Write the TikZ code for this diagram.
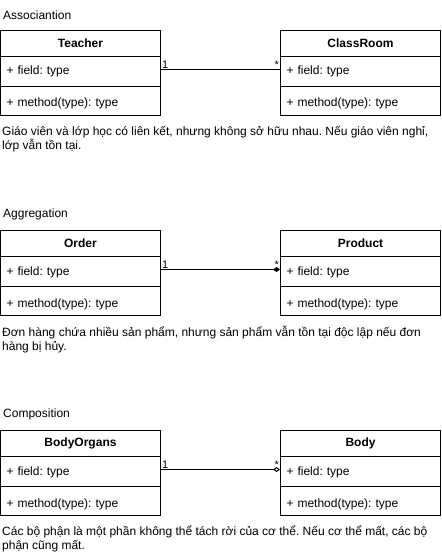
\documentclass[tikz,border=0pt]{standalone}
\usepackage{fontspec}
\setmainfont{Liberation Sans}
\usetikzlibrary{arrows.meta, positioning}
\definecolor{linecol}{HTML}{000000}
\definecolor{textcol}{HTML}{000000}
\frenchspacing

\begin{document}
\begin{tikzpicture}[
    x=1pt, y=-1pt,
    every node/.style={font=\fontsize{12}{14}\selectfont, text=textcol},
    head/.style={draw=linecol, line width=1pt, anchor=north west, minimum width=160, minimum height=26, inner sep=0pt, font=\fontsize{12}{14}\selectfont\bfseries},
    field/.style={draw=linecol, line width=1pt, anchor=north west, minimum height=30, text width=148pt, inner xsep=6pt, inner ysep=0pt, align=left, text height=10pt, text depth=3pt},
    meth/.style={field, minimum height=29, text height=15pt, text depth=3pt},
    title/.style={anchor=west, inner sep=0pt},
    note/.style={anchor=north west, inner sep=0pt, align=left},
    mult/.style={font=\fontsize{11}{12}\selectfont, inner sep=1pt},
    link/.style={draw=linecol, line width=1pt},
]
\useasboundingbox (0,0) rectangle (441,553);

% Association
\node[title] (t1) at (3,15) {Associantion};
\node[head] (teacher) at (0,30) {Teacher};
\node[field] (teacherF) at (0,56) {+ field: type};
\node[meth] (teacherM) at (0,86) {+ method(type): type};
\node[head] (room) at (280,30) {ClassRoom};
\node[field] (roomF) at (280,56) {+ field: type};
\node[meth] (roomM) at (280,86) {+ method(type): type};
\draw[link] ([yshift=2pt]teacherF.east) -- ([yshift=2pt]roomF.west);
\node[mult, anchor=south west] at ([yshift=2pt]teacherF.east) {1};
\node[mult, anchor=south east] at ([yshift=2pt]roomF.west) {*};
\node[note] (n1) at (2,126) {Giáo viên và lớp học có liên kết, nhưng không sở hữu nhau. Nếu giáo viên nghỉ,\\lớp vẫn tồn tại.};

% Aggregation
\node[title] (t2) at (3,214) {Aggregation};
\node[head] (order) at (0,230) {Order};
\node[field] (orderF) at (0,256) {+ field: type};
\node[meth] (orderM) at (0,286) {+ method(type): type};
\node[head] (product) at (280,230) {Product};
\node[field] (productF) at (280,256) {+ field: type};
\node[meth] (productM) at (280,286) {+ method(type): type};
\draw[link, -{Diamond[length=7pt, width=5pt]}] ([yshift=2pt]orderF.east) -- ([yshift=2pt]productF.west);
\node[mult, anchor=south west] at ([yshift=2pt]orderF.east) {1};
\node[mult, anchor=south east] at ([yshift=2pt]productF.west) {*};
\node[note] (n2) at (2,326) {Đơn hàng chứa nhiều sản phẩm, nhưng sản phẩm vẫn tồn tại độc lập nếu đơn\\hàng bị hủy.};

% Composition
\node[title] (t3) at (3,414) {Composition};
\node[head] (organs) at (0,430) {BodyOrgans};
\node[field] (organsF) at (0,456) {+ field: type};
\node[meth] (organsM) at (0,486) {+ method(type): type};
\node[head] (body) at (280,430) {Body};
\node[field] (bodyF) at (280,456) {+ field: type};
\node[meth] (bodyM) at (280,486) {+ method(type): type};
\draw[link, -{Diamond[open, length=7pt, width=5pt]}] ([yshift=2pt]organsF.east) -- ([yshift=2pt]bodyF.west);
\node[mult, anchor=south west] at ([yshift=2pt]organsF.east) {1};
\node[mult, anchor=south east] at ([yshift=2pt]bodyF.west) {*};
\node[note] (n3) at (2,526) {Các bộ phận là một phần không thể tách rời của cơ thể. Nếu cơ thể mất, các bộ\\phận cũng mất.};
\end{tikzpicture}
\end{document}
